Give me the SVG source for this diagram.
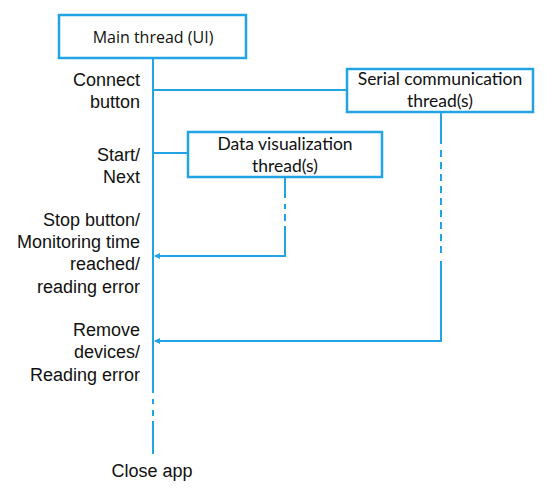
<svg xmlns="http://www.w3.org/2000/svg" width="550" height="495" viewBox="0 0 550 495">
<style>
.box{fill:#fff;stroke:#22a3e3;stroke-width:2.5}
.ln{fill:none;stroke:#22a3e3;stroke-width:2}
.bt{font-family:Lato,"Open Sans",sans-serif;font-size:17.5px;fill:#111;text-anchor:middle}
.lb{font-family:"Liberation Sans",Arial,sans-serif;font-size:18px;fill:#111;text-anchor:end}
</style>
<defs>
<marker id="ah" markerWidth="6" markerHeight="6" refX="5" refY="3" orient="auto" markerUnits="userSpaceOnUse">
<path d="M0,0 L6,3 L0,6 Z" fill="#22a3e3"/>
</marker>
</defs>
<rect width="550" height="495" fill="#fff"/>
<g id="connectors">
<path class="ln" d="M153,58 V393"/>
<path class="ln" d="M153,399 V404 M153,410 V416"/>
<path class="ln" d="M153,421 V454"/>
<path class="ln" d="M153,90 H347"/>
<path class="ln" d="M153,153 H188"/>
<path class="ln" d="M285,177 V198 M285,204 V209 M285,214 V221"/>
<path class="ln" d="M285,226 V256 H155" marker-end="url(#ah)"/>
<path class="ln" d="M441,112 V144"/>
<path class="ln" d="M441,150 V255" stroke-dasharray="7,5"/>
<path class="ln" d="M441,261 V341 H155" marker-end="url(#ah)"/>
</g>
<g id="main-thread">
<rect class="box" x="59" y="15" width="187" height="43"/>
<text class="bt" x="153" y="43" style="font-family:'Open Sans',sans-serif;font-size:16px">Main thread (UI)</text>
</g>
<g id="serial-thread">
<rect class="box" x="347" y="69" width="186" height="43"/>
<text class="bt" x="440" y="85">Serial communication</text>
<text class="bt" x="440" y="107">thread(s)</text>
</g>
<g id="dataviz-thread">
<rect class="box" x="188" y="132" width="194" height="45"/>
<text class="bt" x="285" y="150">Data visualization</text>
<text class="bt" x="285" y="172">thread(s)</text>
</g>
<g id="labels">
<text class="lb" x="140" y="86">Connect</text>
<text class="lb" x="140" y="108">button</text>
<text class="lb" x="140" y="161">Start/</text>
<text class="lb" x="140" y="183">Next</text>
<text class="lb" x="140" y="226">Stop button/</text>
<text class="lb" x="140" y="248">Monitoring time</text>
<text class="lb" x="140" y="270">reached/</text>
<text class="lb" x="140" y="293">reading error</text>
<text class="lb" x="140" y="336">Remove</text>
<text class="lb" x="140" y="358">devices/</text>
<text class="lb" x="140" y="381">Reading error</text>
<text class="lb" x="152" y="477" style="text-anchor:middle">Close app</text>
</g>
</svg>
